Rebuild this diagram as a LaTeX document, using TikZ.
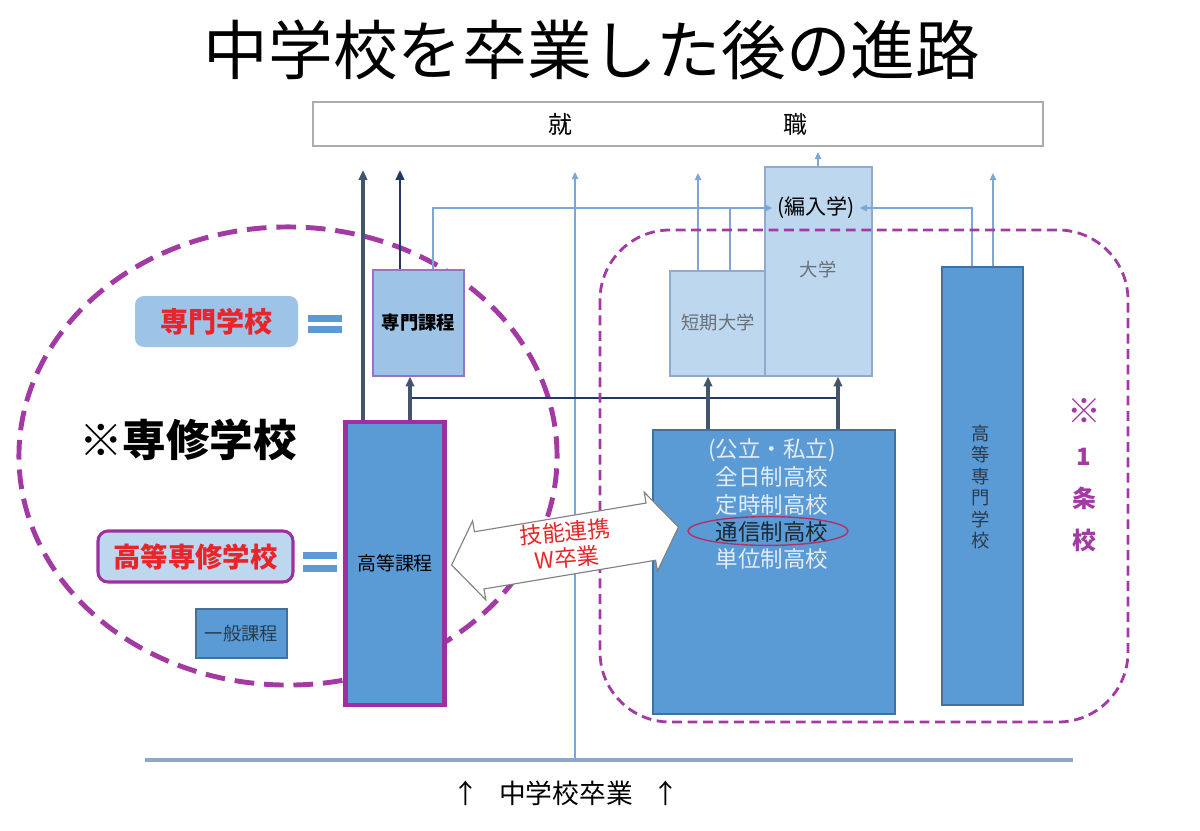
\documentclass[tikz,border=0pt]{standalone}
\usepackage{fontspec}
\setmainfont{Noto Sans CJK JP}
\usetikzlibrary{arrows.meta,fit}

\definecolor{lb}{HTML}{BDD7EE}
\definecolor{lbb}{HTML}{8FAACC}
\definecolor{mb}{HTML}{9DC3E6}
\definecolor{db}{HTML}{5B9BD5}
\definecolor{dbb}{HTML}{41719C}
\definecolor{pur}{HTML}{A33AA3}
\definecolor{kpur}{HTML}{9E2FA0}
\definecolor{spur}{HTML}{A070C0}
\definecolor{dgray}{HTML}{44546A}
\definecolor{navy}{HTML}{1F3864}
\definecolor{cline}{HTML}{7BA7D6}
\definecolor{rtxt}{HTML}{E8262A}
\definecolor{htxt}{HTML}{E3ECF7}
\definecolor{ovl}{HTML}{B0306A}
\definecolor{base}{HTML}{8EA9C8}
\definecolor{gtxt}{HTML}{6A6F78}
\definecolor{ktxt}{HTML}{2B3A4A}

\begin{document}
\begin{tikzpicture}[x=0.025cm,y=-0.025cm,
  boxbase/.style={inner sep=0pt, line width=0.8pt},
  lightbox/.style={boxbase, draw=lbb, fill=lb},
  midbox/.style={boxbase, draw=dbb, fill=db},
  dkarrow/.style={draw=dgray, line width=2.2pt, -{Triangle[length=7pt,width=6pt]}},
  navyline/.style={draw=navy, line width=1.8pt},
  navyarrow/.style={navyline, -{Triangle[length=7pt,width=6pt]}},
  lcline/.style={draw=cline, line width=1pt},
  lcarrow/.style={lcline, -{Triangle[length=5pt,width=4.5pt]}},
  ellsty/.style={draw=pur, line width=3.5pt, dash pattern=on 14pt off 7pt},
  rrsty/.style={draw=pur, line width=2pt, dash pattern=on 7pt off 4pt},
  eqbar/.style={fill=db},
]
\useasboundingbox (0,0) rectangle (1200,830);

% title
\node[font=\fontsize{46}{50}\selectfont] (title) at (592,50) {中学校を卒業した後の進路};

% employment bar
\node[fit={(313,102)(1043,146)}, inner sep=0pt, draw=gray!65, line width=0.8pt, fill=white] (bar) {};
\node[font=\fontsize{17}{20}\selectfont] (shu) at (560,124) {就};
\node[font=\fontsize{17}{20}\selectfont] (shoku) at (795,124) {職};

% base line and centre line
\coordinate (bl) at (145,760);
\coordinate (br) at (1073,760);
\draw[draw=base, line width=2.2pt] (bl) -- (br);
\coordinate (v0) at (575,760);
\coordinate (v1) at (575,172);
\draw[lcarrow] (v0) -- (v1);
\node[font=\fontsize{19}{22}\selectfont] (grad) at (566,793) {↑\hspace{0.75em}中学校卒業\hspace{0.75em}↑};

% left dashed ellipse
\draw[ellsty] (288,456) ellipse [x radius=6.725cm, y radius=5.725cm];

% boxes
\node[fit={(765,167)(872,376)}, lightbox] (daigaku) {};
\node[fit={(670,271)(765,376)}, lightbox] (tanki) {};
\node[fit={(373,270)(464,376)}, boxbase, draw=spur, fill=mb] (senmonkatei) {};
\node[fit={(345.5,422)(444.5,705)}, inner sep=0pt, draw=kpur, line width=3.5pt, fill=db] (koutoukatei) {};
\node[fit={(653,430)(895,714)}, midbox] (hs) {};
\node[fit={(942,267)(1023,705)}, midbox] (kosen) {};
\node[fit={(196,609)(287,658)}, midbox] (ippan) {};
\node[fit={(135,296)(298,347)}, inner sep=0pt, fill=mb, rounded corners=0.22cm] (senmongakko) {};
\node[fit={(98,531)(293,582)}, inner sep=0pt, fill=lb, draw=kpur, line width=2.2pt, rounded corners=0.25cm] (koutousenshu) {};

% box texts
\node[font=\fontsize{13}{15}\selectfont\bfseries] (senmonkateitxt) at (senmonkatei.center) {専門課程};
\node[font=\fontsize{13.5}{15}\selectfont] (koutoukateitxt) at (koutoukatei.center) {高等課程};
\node[text=ktxt, font=\fontsize{13}{15}\selectfont] (ippantxt) at (ippan.center) {一般課程};
\node[text=rtxt, font=\fontsize{20}{22}\selectfont\bfseries] (senmongakkotxt) at (senmongakko.center) {専門学校};
\node[text=rtxt, font=\fontsize{19.5}{22}\selectfont\bfseries] (koutousenshutxt) at (koutousenshu.center) {高等専修学校};

% equals signs
\fill[eqbar] (308,315) rectangle (342,322);
\fill[eqbar] (308,326) rectangle (342,333);
\fill[eqbar] (303,552) rectangle (337,559);
\fill[eqbar] (303,565) rectangle (337,572);

\node[font=\fontsize{31}{34}\selectfont\bfseries] (senshu) at (188,440) {※専修学校};

% texts in university boxes
\node[font=\fontsize{15}{17}\selectfont] (hennyu) at (816,208) {(編入学)};
\node[text=gtxt, font=\fontsize{13}{15}\selectfont] (daigakutxt) at (818,270) {大学};
\node[text=gtxt, font=\fontsize{13}{15}\selectfont] (tankitxt) at (718,323) {短期大学};

% high school texts
\node[text=htxt, font=\fontsize{16}{18}\selectfont] (hs1) at (772,450) {(公立・私立)};
\node[text=htxt, font=\fontsize{16}{18}\selectfont] (hs2) at (772,477) {全日制高校};
\node[text=htxt, font=\fontsize{16}{18}\selectfont] (hs3) at (772,505) {定時制高校};
\node[text=ktxt!70!black, font=\fontsize{16}{18}\selectfont] (hs4) at (772,532) {通信制高校};
\node[text=htxt, font=\fontsize{16}{18}\selectfont] (hs5) at (772,559) {単位制高校};
\draw[draw=ovl, line width=1pt] (768,531) ellipse [x radius=2cm, y radius=0.36cm];

% kosen vertical text
\node[text=ktxt, align=center, font=\fontsize{13}{15.2}\selectfont] (kosentxt) at (981,487) {高\\等\\専\\門\\学\\校};

% 1条校 label
\node[text=pur, align=center, font=\fontsize{17}{30}\selectfont\bfseries] (jou) at (1084,475) {{\fontsize{24}{30}\selectfont ※}\\1\\条\\校};

% connectors
\coordinate (t363) at (363,170);
\coordinate (t400) at (400,170);
\draw[dkarrow] (t363 |- koutoukatei.north) -- (t363);
\draw[navyarrow] (t400 |- senmonkatei.north) -- (t400);

\coordinate (c410) at (410,398);
\coordinate (c708) at (708,398);
\coordinate (c838) at (838,398);
\draw[navyline] (c410) -- (c838);
\draw[dkarrow] (c410 |- koutoukatei.north) -- (c410 |- senmonkatei.south);
\draw[dkarrow] (c708 |- hs.north) -- (c708 |- tanki.south);
\draw[dkarrow] (c838 |- hs.north) -- (c838 |- daigaku.south);

\coordinate (t698) at (698,173);
\coordinate (t818) at (818,152);
\coordinate (t993) at (993,173);
\draw[lcarrow] (t698 |- tanki.north) -- (t698);
\draw[lcarrow] (t818 |- daigaku.north) -- (t818);
\draw[lcarrow] (t993 |- kosen.north) -- (t993);

\coordinate (c433) at (433,208);
\coordinate (c730) at (730,208);
\coordinate (c972) at (972,208);
\draw[lcarrow] (c433 |- senmonkatei.north) |- (hennyu.west);
\draw[lcline] (c730 |- tanki.north) -- (c730);
\draw[lcarrow] (c972 |- kosen.north) |- (hennyu.east);

% right dashed rounded region
\draw[rrsty, rounded corners=1.75cm] (600,230) rectangle (1128,722);

% double arrow
\begin{scope}[shift={(565,546)}, rotate=9.5]
  \draw[draw=gray, line width=0.8pt, fill=white] (-115,0) -- (-87,-40) -- (-87,-29) -- (87,-29) -- (87,-40) -- (115,0) -- (87,40) -- (87,29) -- (-87,29) -- (-87,40) -- cycle;
\end{scope}
\node[rotate=5, align=center, text=rtxt, font=\fontsize{16}{18.5}\selectfont] (skill) at (566,545) {技能連携\\W卒業};

\end{tikzpicture}
\end{document}
